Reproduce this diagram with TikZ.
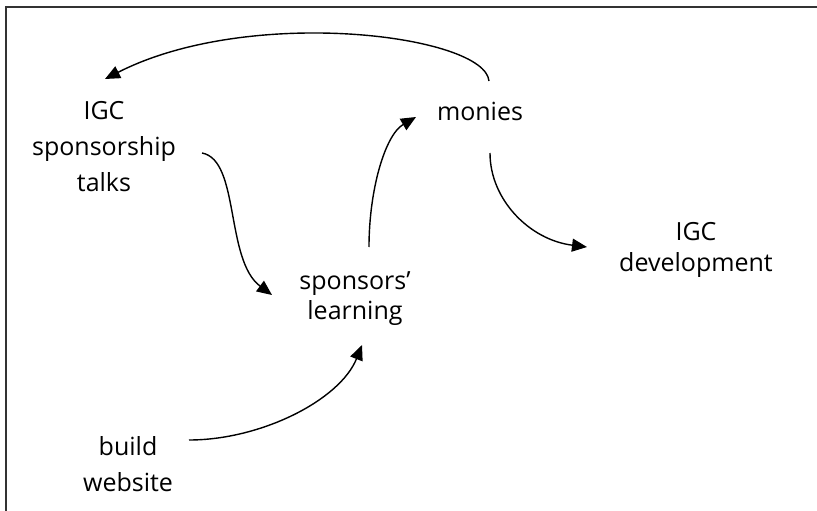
\documentclass[tikz,border=0pt]{standalone}
\usepackage{fontspec}
\setmainfont{Open Sans}
\usetikzlibrary{arrows.meta,calc}
\begin{document}
\begin{tikzpicture}[x=1pt,y=-1pt,
  concept/.style={align=center, inner sep=0pt, text=black,
                  font=\fontsize{25}{#1}\selectfont},
  concept/.default=36,
  link/.style={line width=1.4pt, -{Triangle[length=15pt,width=13pt]}},
  edge/.style={line width=1.6pt, draw=black!80}]
\useasboundingbox (0,0) rectangle (817,511);

% open frame: top and left edges only
\draw[edge] (5,7) -- (817,7);
\draw[edge] (6,7) -- (6,511);

% concepts
\node[concept=36] (talks)    at (104,146.5) {IGC\\sponsorship\\talks};
\node[concept]    (monies)   at (480,111)   {monies};
\node[concept=30] (learning) at (355,298.5) {sponsors'\\learning};
\node[concept=31] (dev)      at (696,249.5) {IGC\\development};
\node[concept=36] (website)  at (128,464)   {build\\website};

% influences
\draw[link] ($(monies)+(9,-30)$)
  .. controls +(-4,-46) and +(145,-74) .. ($(talks)+(1,-67.5)$);
\draw[link] ($(talks)+(98,6.5)$)
  .. controls +(38,7) and +(-47,-35) .. ($(learning)+(-83,-3.5)$);
\draw[link] ($(learning)+(14,-51.5)$)
  .. controls +(0,-57) and +(-31,18) .. ($(monies)+(-64,6)$);
\draw[link] ($(monies)+(10,42)$)
  .. controls +(0,47) and +(-57,-7) .. ($(dev)+(-109,-2.5)$);
\draw[link] ($(website)+(61,-24)$)
  .. controls +(72,0) and +(-22,55) .. ($(learning)+(7,46.5)$);
\end{tikzpicture}
\end{document}
